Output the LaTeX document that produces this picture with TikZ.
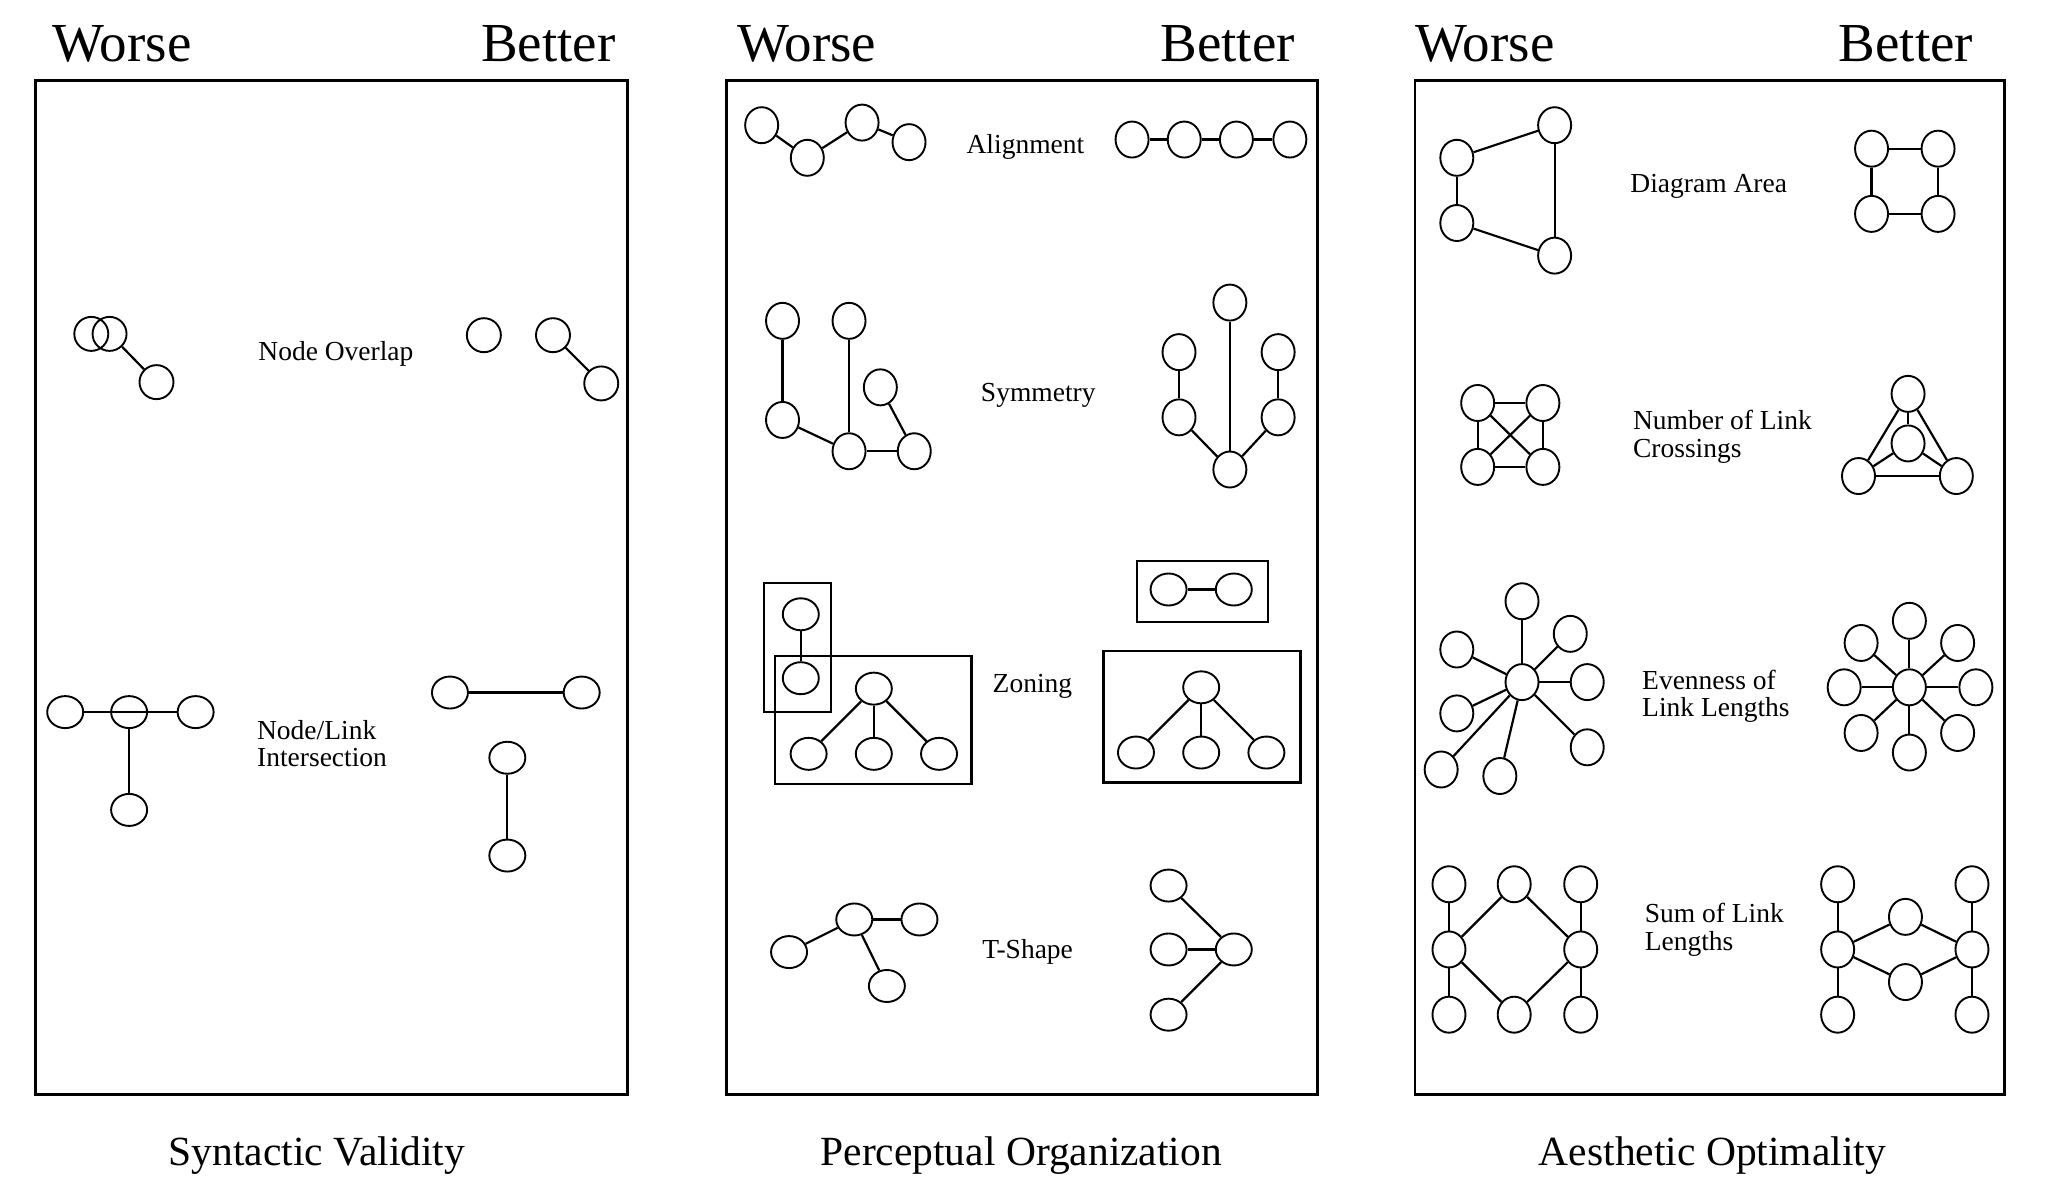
\documentclass[tikz,border=0pt]{standalone}
\usepackage{fontspec}
\setmainfont{Liberation Serif}
\usetikzlibrary{shapes.geometric}
\begin{document}
\begin{tikzpicture}[x=1.3042bp,y=-1.3042bp,
  nd/.style={draw,ellipse,line width=1.9bp,minimum width=34bp,minimum height=34bp,inner sep=0pt},
  ndw/.style={nd,minimum width=36bp,minimum height=32bp},
  ndt/.style={nd,minimum width=33bp,minimum height=36bp},
  ed/.style={line width=2.2bp},
  box/.style={draw,line width=2.8bp},
  zone/.style={draw,line width=2.4bp},
  hdr/.style={font=\fontsize{55bp}{60bp}\selectfont,inner sep=0pt},
  ttl/.style={font=\fontsize{41.5bp}{46bp}\selectfont,inner sep=0pt},
  lbl/.style={font=\fontsize{27.5bp}{27.5bp}\selectfont,inner sep=0pt,align=left}]
\useasboundingbox (0,0) rectangle (1568,919);
\fill[white] (0,0) rectangle (1568,919);
% ---------- headers ----------
\node[hdr,anchor=base west] (w1) at (40,47) {Worse};
\node[hdr,anchor=base east] (b1h) at (472,47) {Better};
\node[hdr,anchor=base west] (w2) at (565,47) {Worse};
\node[hdr,anchor=base east] (b2h) at (993,47) {Better};
\node[hdr,anchor=base west] (w3) at (1085,47) {Worse};
\node[hdr,anchor=base east] (b3h) at (1513,47) {Better};
% ---------- panels ----------
\draw[box] (27,62) rectangle (481,839);
\draw[box] (557,62) rectangle (1010,839);
\draw[box] (1085,62) rectangle (1537,839);
\node[ttl,anchor=base] (t1) at (243,894) {Syntactic Validity};
\node[ttl,anchor=base] (t2) at (783,894) {Perceptual Organization};
\node[ttl,anchor=base] (t3) at (1313,894) {Aesthetic Optimality};
% ================= Panel 1 =================
% Node overlap
\node[nd] (a1) at (70,256) {};
\node[nd] (a2) at (84,256) {};
\node[nd] (a3) at (120,293) {};
\draw[ed] (a2) -- (a3);
\node[nd] (b1) at (371,257) {};
\node[nd] (b2) at (424,257) {};
\node[nd] (b3) at (461,294) {};
\draw[ed] (b2) -- (b3);
\node[lbl,anchor=west] (lno) at (198,271) {Node Overlap};
% Node/link intersection
\node[ndw] (c1) at (50,546) {};
\node[ndw] (c2) at (99,546) {};
\node[ndw] (c3) at (150,546) {};
\node[ndw] (c4) at (99,621) {};
\draw[ed] (c1) -- (c3);
\draw[ed] (c2) -- (c4);
\node[ndw] (d1) at (345,531) {};
\node[ndw] (d2) at (446,531) {};
\node[ndw] (d3) at (389,581) {};
\node[ndw] (d4) at (389,656) {};
\draw[ed] (d1) -- (d2);
\draw[ed] (d3) -- (d4);
\node[lbl,anchor=west] (lnl) at (197,570) {Node/Link\\Intersection};
% ================= Panel 2 =================
% Alignment
\node[ndt] (e1) at (584,96) {};
\node[ndt] (e2) at (619,121) {};
\node[ndt] (e3) at (661,94) {};
\node[ndt] (e4) at (697,109) {};
\draw[ed] (e1) -- (e2);
\draw[ed] (e2) -- (e3);
\draw[ed] (e3) -- (e4);
\node[ndt] (f1) at (868,107) {};
\node[ndt] (f2) at (908,107) {};
\node[ndt] (f3) at (948,107) {};
\node[ndt] (f4) at (989,107) {};
\draw[ed] (f1) -- (f2);
\draw[ed] (f2) -- (f3);
\draw[ed] (f3) -- (f4);
\node[lbl,anchor=west] (lal) at (741,113) {Alignment};
% Symmetry
\node[ndt] (g1) at (600,246) {};
\node[ndt] (g2) at (651,246) {};
\node[ndt] (g3) at (675,297) {};
\node[ndt] (g4) at (600,322) {};
\node[ndt] (g5) at (651,346) {};
\node[ndt] (g6) at (701,346) {};
\draw[ed] (g1) -- (g4);
\draw[ed] (g2) -- (g5);
\draw[ed] (g4) -- (g5);
\draw[ed] (g5) -- (g6);
\draw[ed] (g3) -- (g6);
\node[ndt] (h1) at (943,232) {};
\node[ndt] (h2) at (904,270) {};
\node[ndt] (h3) at (980,270) {};
\node[ndt] (h4) at (904,320) {};
\node[ndt] (h5) at (980,320) {};
\node[ndt] (h6) at (943,360) {};
\draw[ed] (h2) -- (h4);
\draw[ed] (h3) -- (h5);
\draw[ed] (h4) -- (h6);
\draw[ed] (h5) -- (h6);
\draw[ed] (h1) -- (h6);
\node[lbl,anchor=west] (lsy) at (752,303) {Symmetry};
% Zoning
\draw[zone] (586,447) rectangle (637,546);
\draw[zone] (594,503) rectangle (745,601);
\node[ndw] (i1) at (614,471) {};
\node[ndw] (i2) at (614,520) {};
\node[ndw] (i3) at (670,528) {};
\node[ndw] (i4) at (620,578) {};
\node[ndw] (i5) at (670,578) {};
\node[ndw] (i6) at (720,578) {};
\draw[ed] (i1) -- (i2);
\draw[ed] (i3) -- (i4);
\draw[ed] (i3) -- (i5);
\draw[ed] (i3) -- (i6);
\draw[zone] (872,430) rectangle (972,477);
\draw[zone] (846,499) rectangle (997,600);
\node[ndw] (j1) at (896,452) {};
\node[ndw] (j2) at (946,452) {};
\node[ndw] (j3) at (921,527) {};
\node[ndw] (j4) at (871,577) {};
\node[ndw] (j5) at (921,577) {};
\node[ndw] (j6) at (971,577) {};
\draw[ed] (j1) -- (j2);
\draw[ed] (j3) -- (j4);
\draw[ed] (j3) -- (j5);
\draw[ed] (j3) -- (j6);
\node[lbl,anchor=west] (lzo) at (761,526) {Zoning};
% T-shape
\node[ndw] (k1) at (605,730) {};
\node[ndw] (k2) at (655,705) {};
\node[ndw] (k3) at (705,705) {};
\node[ndw] (k4) at (680,756) {};
\draw[ed] (k1) -- (k2);
\draw[ed] (k2) -- (k3);
\draw[ed] (k2) -- (k4);
\node[ndw] (m1) at (896,679) {};
\node[ndw] (m2) at (896,728) {};
\node[ndw] (m3) at (896,778) {};
\node[ndw] (m4) at (946,728) {};
\draw[ed] (m1) -- (m4);
\draw[ed] (m2) -- (m4);
\draw[ed] (m3) -- (m4);
\node[lbl,anchor=west] (lts) at (753,730) {T-Shape};
% ================= Panel 3 =================
% Diagram area
\node[ndt] (n1) at (1117,121) {};
\node[ndt] (n2) at (1192,96) {};
\node[ndt] (n3) at (1117,171) {};
\node[ndt] (n4) at (1192,196) {};
\draw[ed] (n1) -- (n2);
\draw[ed] (n1) -- (n3);
\draw[ed] (n3) -- (n4);
\draw[ed] (n2) -- (n4);
\node[ndt] (o1) at (1435,114) {};
\node[ndt] (o2) at (1486,114) {};
\node[ndt] (o3) at (1435,164) {};
\node[ndt] (o4) at (1486,164) {};
\draw[ed] (o1) -- (o2);
\draw[ed] (o3) -- (o4);
\draw[ed] (o1) -- (o3);
\draw[ed] (o2) -- (o4);
\node[lbl,anchor=west] (lda) at (1250,143) {Diagram Area};
% Link crossings
\node[ndt] (p1) at (1133,309) {};
\node[ndt] (p2) at (1183,309) {};
\node[ndt] (p3) at (1133,358) {};
\node[ndt] (p4) at (1183,358) {};
\draw[ed] (p1) -- (p2);
\draw[ed] (p3) -- (p4);
\draw[ed] (p1) -- (p3);
\draw[ed] (p2) -- (p4);
\draw[ed] (p1) -- (p4);
\draw[ed] (p2) -- (p3);
\node[ndt] (q1) at (1463,302) {};
\node[ndt] (q2) at (1463,340) {};
\node[ndt] (q3) at (1425,365) {};
\node[ndt] (q4) at (1500,365) {};
\draw[ed] (q1) -- (q2);
\draw[ed] (q1) -- (q3);
\draw[ed] (q1) -- (q4);
\draw[ed] (q2) -- (q3);
\draw[ed] (q2) -- (q4);
\draw[ed] (q3) -- (q4);
\node[lbl,anchor=west] (llc) at (1252,335) {Number of Link\\Crossings};
% Evenness of link lengths
\node[ndt] (r0) at (1167,523) {};
\node[ndt] (r1) at (1167,461) {};
\node[ndt] (r2) at (1204,486) {};
\node[ndt] (r3) at (1217,523) {};
\node[ndt] (r4) at (1217,573) {};
\node[ndt] (r5) at (1150,595) {};
\node[ndt] (r6) at (1105,590) {};
\node[ndt] (r7) at (1117,547) {};
\node[ndt] (r8) at (1117,498) {};
\foreach \k in {1,...,8} {\draw[ed] (r0) -- (r\k);}
\node[ndt] (s0) at (1464,527) {};
\node[ndt] (s1) at (1464,476) {};
\node[ndt] (s2) at (1501,493) {};
\node[ndt] (s3) at (1515,527) {};
\node[ndt] (s4) at (1501,562) {};
\node[ndt] (s5) at (1464,577) {};
\node[ndt] (s6) at (1427,562) {};
\node[ndt] (s7) at (1414,527) {};
\node[ndt] (s8) at (1427,493) {};
\foreach \k in {1,...,8} {\draw[ed] (s0) -- (s\k);}
\node[lbl,anchor=west] (lev) at (1259,534) {Evenness of\\Link Lengths};
% Sum of link lengths
\node[ndt] (u1) at (1111,678) {};
\node[ndt] (u2) at (1111,728) {};
\node[ndt] (u3) at (1111,778) {};
\node[ndt] (u4) at (1161,678) {};
\node[ndt] (u5) at (1161,778) {};
\node[ndt] (u6) at (1212,678) {};
\node[ndt] (u7) at (1212,728) {};
\node[ndt] (u8) at (1212,778) {};
\draw[ed] (u1) -- (u2);
\draw[ed] (u2) -- (u3);
\draw[ed] (u6) -- (u7);
\draw[ed] (u7) -- (u8);
\draw[ed] (u2) -- (u4);
\draw[ed] (u4) -- (u7);
\draw[ed] (u7) -- (u5);
\draw[ed] (u5) -- (u2);
\node[ndt] (v1) at (1409,678) {};
\node[ndt] (v2) at (1409,728) {};
\node[ndt] (v3) at (1409,778) {};
\node[ndt] (v4) at (1461,703) {};
\node[ndt] (v5) at (1461,753) {};
\node[ndt] (v6) at (1512,678) {};
\node[ndt] (v7) at (1512,728) {};
\node[ndt] (v8) at (1512,778) {};
\draw[ed] (v1) -- (v2);
\draw[ed] (v2) -- (v3);
\draw[ed] (v6) -- (v7);
\draw[ed] (v7) -- (v8);
\draw[ed] (v2) -- (v4);
\draw[ed] (v4) -- (v7);
\draw[ed] (v7) -- (v5);
\draw[ed] (v5) -- (v2);
\node[lbl,anchor=west] (lsl) at (1261,713) {Sum of Link\\Lengths};
\end{tikzpicture}
\end{document}
